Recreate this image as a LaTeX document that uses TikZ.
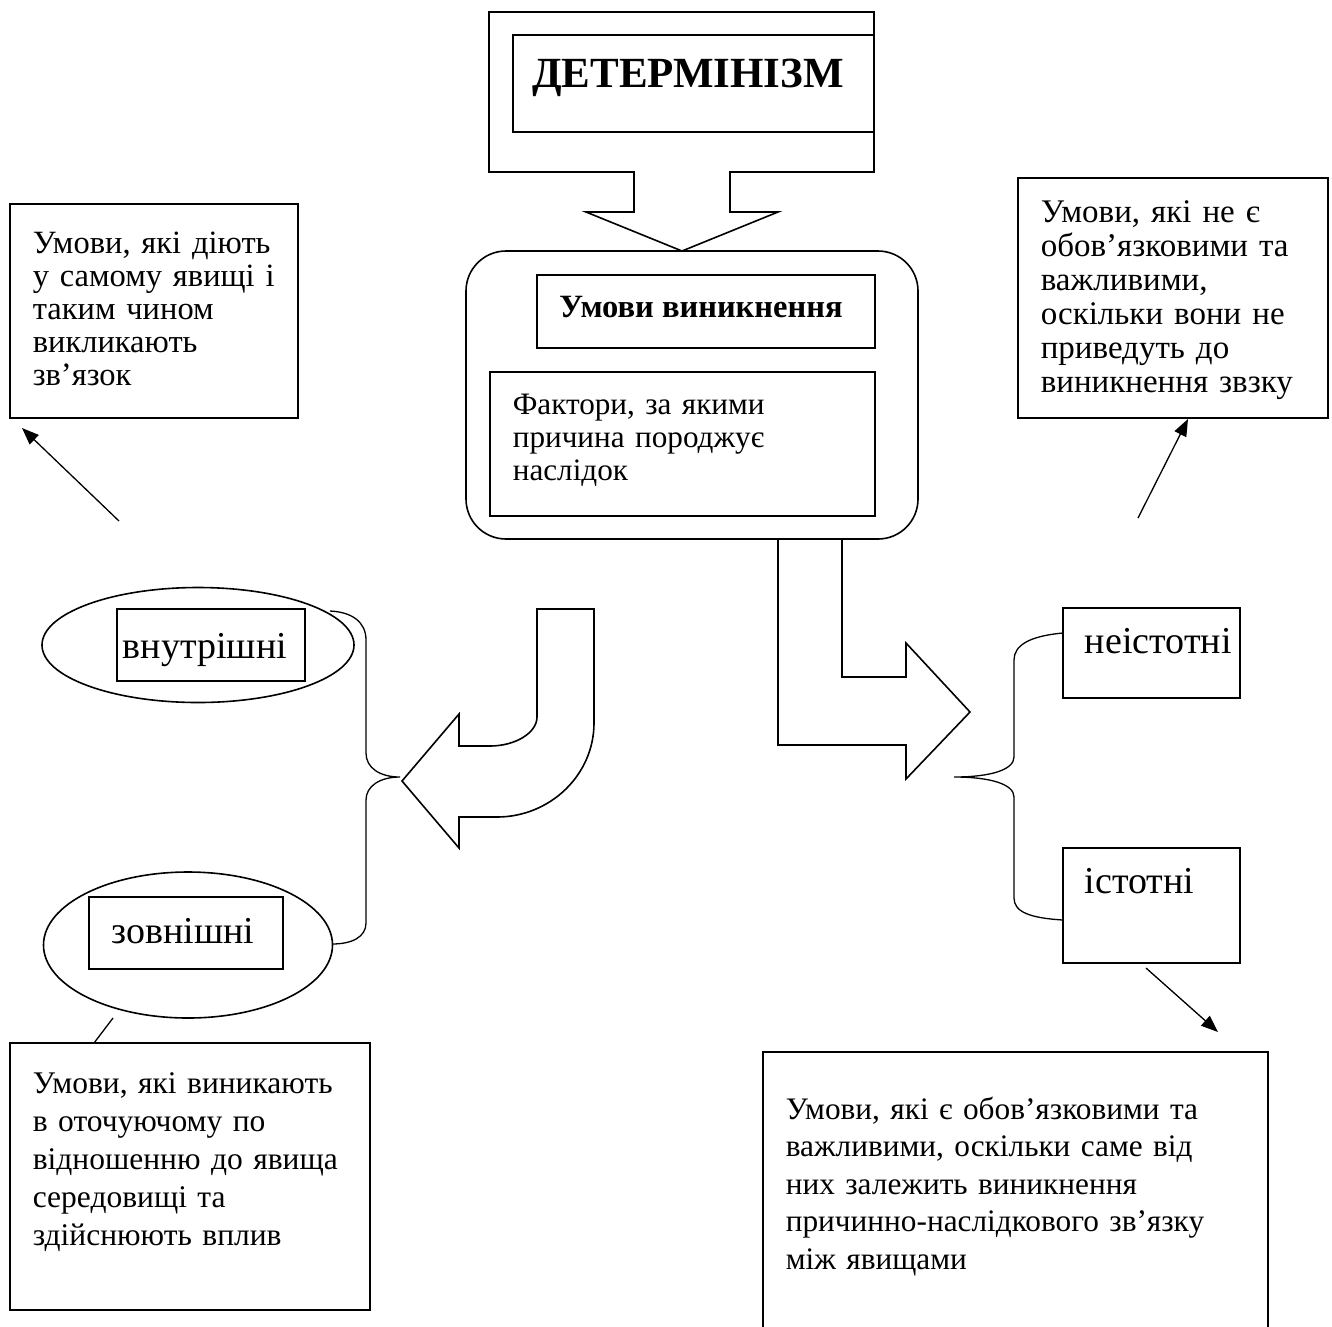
\documentclass[tikz,border=0pt]{standalone}
\usepackage{fontspec}
\setmainfont{Liberation Serif}
\usetikzlibrary{arrows.meta,shapes.geometric}
\begin{document}
\begin{tikzpicture}[x=1pt,y=-1pt, line width=1.6pt, line join=miter,
  box/.style={draw, rectangle, inner sep=0pt, outer sep=0pt, anchor=north west},
  oval/.style={draw, ellipse, inner sep=0pt, outer sep=0pt},
  body/.style={anchor=base west, inner sep=0pt, align=left, text width=#1},
  bodyfont/.style 2 args={font=\fontsize{#1}{#2}\selectfont},
  label/.style={inner sep=0pt, font=\fontsize{38}{44}\selectfont},
  pointer/.style={line width=1.3pt, -{Triangle[length=17pt,width=13pt]}},
  thin/.style={line width=1.3pt}]
\useasboundingbox (0,0) rectangle (1332,1326);

% top arrow from DETERMINISM
\draw (489,12) -- (874,12) -- (874,172) -- (730,172) -- (730,212) -- (778,212)
  -- (682,251) -- (586,212) -- (634,212) -- (634,172) -- (489,172) -- cycle;
\node[box, fill=white, minimum width=361pt, minimum height=97pt] (detbox) at (513,35) {};
\node[inner sep=0pt, anchor=base, font=\bfseries\fontsize{43}{48}\selectfont] (dettext) at (688,87) {ДЕТЕРМІНІЗМ};

% rounded frame
\node[box, rounded corners=40pt, minimum width=452pt, minimum height=288pt] (frame) at (466,251) {};
\node[box, minimum width=338pt, minimum height=73pt] (umbox) at (537,275) {};
\node[inner sep=0pt, anchor=base, font=\bfseries\fontsize{32.5}{36}\selectfont] (umtext) at (701,317) {Умови виникнення};
\node[box, minimum width=385pt, minimum height=144pt] (fakbox) at (490,372) {};
\node[body=360pt, bodyfont={31.2}{33}] (faktext) at (512,414) {Фактори, за якими\\причина породжує\\наслідок};

% top-left box
\node[box, minimum width=288pt, minimum height=214pt] (tlbox) at (10,204) {};
\node[body=270pt, bodyfont={32.5}{33}] (tltext) at (32,253) {Умови, які діють\\у самому явищі і\\таким чином\\викликають\\зв’язок};
\coordinate (tlfrom) at (119,521);
\coordinate (tlto) at (22,428);
\draw[pointer] (tlfrom) -- (tlto);

% top-right box
\node[box, minimum width=310pt, minimum height=240pt] (trbox) at (1018,178) {};
\node[body=300pt, bodyfont={33}{34}] (trtext) at (1040,222) {Умови, які не є\\обов’язковими та\\важливими,\\оскільки вони не\\приведуть до\\виникнення звзку};
\coordinate (trfrom) at (1138,518);
\coordinate (trto) at (1188,419);
\draw[pointer] (trfrom) -- (trto);

% left U-turn arrow
\draw (537,609) -- (594,609) -- (594,723) .. controls (594,775) and (550,817) .. (497,817)
  -- (459,817) -- (459,848) -- (402,781) -- (459,714) -- (459,746) -- (490,746)
  .. controls (515,746) and (537,733) .. (537,717) -- cycle;

% ellipses
\node[oval, minimum width=312pt, minimum height=115pt] (inner) at (198,645) {};
\node[box, minimum width=188pt, minimum height=72pt] (inbox) at (117,609) {};
\node[label, anchor=base] (intext) at (205,658) {внутрішні};
\node[oval, minimum width=289pt, minimum height=146pt] (outer) at (188,945) {};
\node[box, minimum width=194pt, minimum height=72pt] (outbox) at (89,897) {};
\node[label, anchor=base] (outtext) at (183,943) {зовнішні};

% left brace
\draw[thin] (330,611) .. controls (352,612) and (366,622) .. (366,640) -- (366,753)
  .. controls (366,768) and (380,777) .. (400,777)
  .. controls (380,777) and (366,786) .. (366,800) -- (366,923)
  .. controls (366,937) and (352,944) .. (332,944);

% bottom-left box
\coordinate (blfrom) at (113,1018);
\coordinate (blto) at (94,1043);
\draw[thin] (blfrom) -- (blto);
\node[box, minimum width=360pt, minimum height=267pt] (blbox) at (10,1043) {};
\node[body=345pt, bodyfont={31.5}{38}] (bltext) at (32,1093) {Умови, які виникають\\в оточуючому по\\відношенню до явища\\середовищі та\\здійснюють вплив};

% right L arrow
\draw (778,539) -- (778,745) -- (906,745) -- (906,779) -- (970,712) -- (906,643)
  -- (906,677) -- (842,677) -- (842,539);

% right brace
\draw[thin] (1063,633) .. controls (1030,636) and (1014,645) .. (1014,660) -- (1014,757)
  .. controls (1014,770) and (990,777) .. (954,777)
  .. controls (990,777) and (1014,784) .. (1014,797) -- (1014,898)
  .. controls (1014,912) and (1030,918) .. (1063,920);

% right boxes
\node[box, minimum width=177pt, minimum height=90pt] (nebox) at (1063,608) {};
\node[label, anchor=base west] (netext) at (1084,653) {неістотні};
\node[box, minimum width=177pt, minimum height=115pt] (isbox) at (1063,848) {};
\node[label, anchor=base west] (istext) at (1084,893) {істотні};

\coordinate (brfrom) at (1146,968);
\coordinate (brto) at (1218,1032);
\draw[pointer] (brfrom) -- (brto);
\node[box, minimum width=505pt, minimum height=300pt] (brbox) at (763,1052) {};
\node[body=490pt, bodyfont={31.3}{37.5}] (brtext) at (785,1119) {Умови, які є обов’язковими та\\важливими, оскільки саме від\\них залежить виникнення\\причинно-наслідкового зв’язку\\між явищами};
\end{tikzpicture}
\end{document}
